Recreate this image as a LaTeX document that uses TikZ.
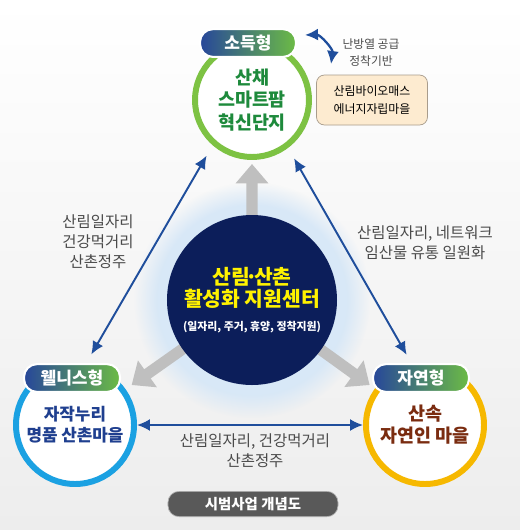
\documentclass[tikz,border=0pt]{standalone}
\usepackage{fontspec}
\setmainfont{Noto Sans CJK KR}
\usetikzlibrary{arrows.meta,positioning,shapes.geometric,fadings,calc}
\tikzset{>=Stealth}
\definecolor{bggray}{HTML}{EDEDED}
\definecolor{glowblue}{HTML}{D8E8F7}
\definecolor{ringgreen}{HTML}{7DC243}
\definecolor{incgreen}{HTML}{1E8A3C}
\definecolor{ringcyan}{HTML}{1BA1E2}
\definecolor{wellnavy}{HTML}{1F3F8F}
\definecolor{ringgold}{HTML}{F6B800}
\definecolor{natbrown}{HTML}{7A2C10}
\definecolor{badgeblue}{HTML}{27479A}
\definecolor{badgegreen}{HTML}{6CBB45}
\definecolor{notegray}{HTML}{4A4A4A}
\definecolor{linkblue}{HTML}{1F4E9C}
\definecolor{pushgray}{HTML}{BFBFBF}
\definecolor{ctrnavy}{HTML}{0C1E5A}
\definecolor{ctryellow}{HTML}{FFF200}
\definecolor{boxpeach}{HTML}{FDEBD0}
\definecolor{boxline}{HTML}{A89C8C}
\definecolor{pillgray}{HTML}{595959}

\begin{document}
\begin{tikzpicture}[x=0.2mm, y=-0.2mm,
    ring/.style={circle, draw=#1, line width=3.4pt, fill=white, align=center, inner sep=0pt},
    badge/.style={rounded corners=2.6mm, draw=white, line width=1.2pt, left color=badgeblue, right color=badgegreen,
      minimum width=19.2mm, minimum height=5.4mm, text=white, font=\bfseries\fontsize{9.7}{11}\selectfont},
    note/.style={align=center, text=notegray, font=\fontsize{8.8}{11.4}\selectfont},
    small/.style={align=center, text=notegray, font=\fontsize{6.7}{9.7}\selectfont},
    link/.style={{Latex[length=2.6mm,width=2.4mm]}-{Latex[length=2.6mm,width=2.4mm]}, draw=linkblue, line width=1.1pt},
    push/.style={-{Triangle[length=11pt,width=18pt]}, draw=pushgray, line width=6.4pt}
  ]
    \useasboundingbox (0,0) rectangle (520,530);
    \shade[top color=white, bottom color=bggray] (0,0) rectangle (520,530);

    \coordinate (hub) at (252,300);
    \fill[glowblue, path fading=circle with fuzzy edge 20 percent] (hub) circle (118);

    \node[ring=ringgreen, minimum size=22.8mm, text=incgreen, font=\bfseries\fontsize{10.5}{12.8}\selectfont]
      (inc) at (252,100) {산채\\스마트팜\\혁신단지};
    \node[ring=ringcyan, minimum size=23.6mm, text=wellnavy, font=\bfseries\fontsize{9.6}{12}\selectfont]
      (well) at (75,425) {자작누리\\명품 산촌마을};
    \node[ring=ringgold, minimum size=23.6mm, text=natbrown, font=\bfseries\fontsize{10.5}{12.6}\selectfont]
      (nat) at (425,425) {산속\\자연인 마을};

    \foreach \t in {inc,well,nat} \draw[push] (hub) -- ($(hub)!0.68!(\t)$);

    \node[circle, fill=ctrnavy, minimum size=34mm, align=center, text=ctryellow,
      font=\bfseries\fontsize{11.6}{12.5}\selectfont] (ctr) at (hub)
      {산림\kern-.2em·\kern-.2em산촌\\활성화 지원센터\\[1pt]{\color{white}\fontsize{6.2}{7}\selectfont(일자리, 주거, 휴양, 정착지원)}};

    \node[badge] (incb)  at (248,43)  {소득형};
    \node[badge] (wellb) at (72,378)  {웰니스형};
    \node[badge] (natb)  at (421,378) {자연형};

    \draw[link, shorten <=2.4mm, shorten >=2.2mm] (inc.229) -- (well.80);
    \draw[link, shorten <=2.4mm, shorten >=2.2mm] (inc.307) -- (nat.102);
    \draw[link] (well.east) -- (nat.west);

    \node[note] (lnote) at (98,242)  {산림일자리\\건강먹거리\\산촌정주};
    \node[note] (rnote) at (425,243) {산림일자리, 네트워크\\임산물 유통 일원화};
    \node[note] (bnote) at (255,451) {산림일자리, 건강먹거리\\산촌정주};

    \node[small] (heat) at (371,53) {난방열 공급\\정착기반};
    \node[draw=boxline, fill=boxpeach, rounded corners=1.6mm, minimum width=22.2mm, minimum height=10mm,
      align=center, font=\fontsize{6.8}{10.2}\selectfont] (bio) at (372,100) {산림바이오매스\\에너지자립마을};
    \coordinate (swapa) at (305,35);
    \coordinate (swapb) at (331,64);
    \draw[link, line width=1.3pt] (swapa) to[bend left=50] (swapb);

    \node[fill=pillgray, draw=gray!60, rounded corners=2.2mm, minimum width=34mm, minimum height=4.4mm,
      text=white, font=\bfseries\fontsize{8.2}{10}\selectfont] (title) at (253,504) {시범사업 개념도};
  \end{tikzpicture}
\end{document}
